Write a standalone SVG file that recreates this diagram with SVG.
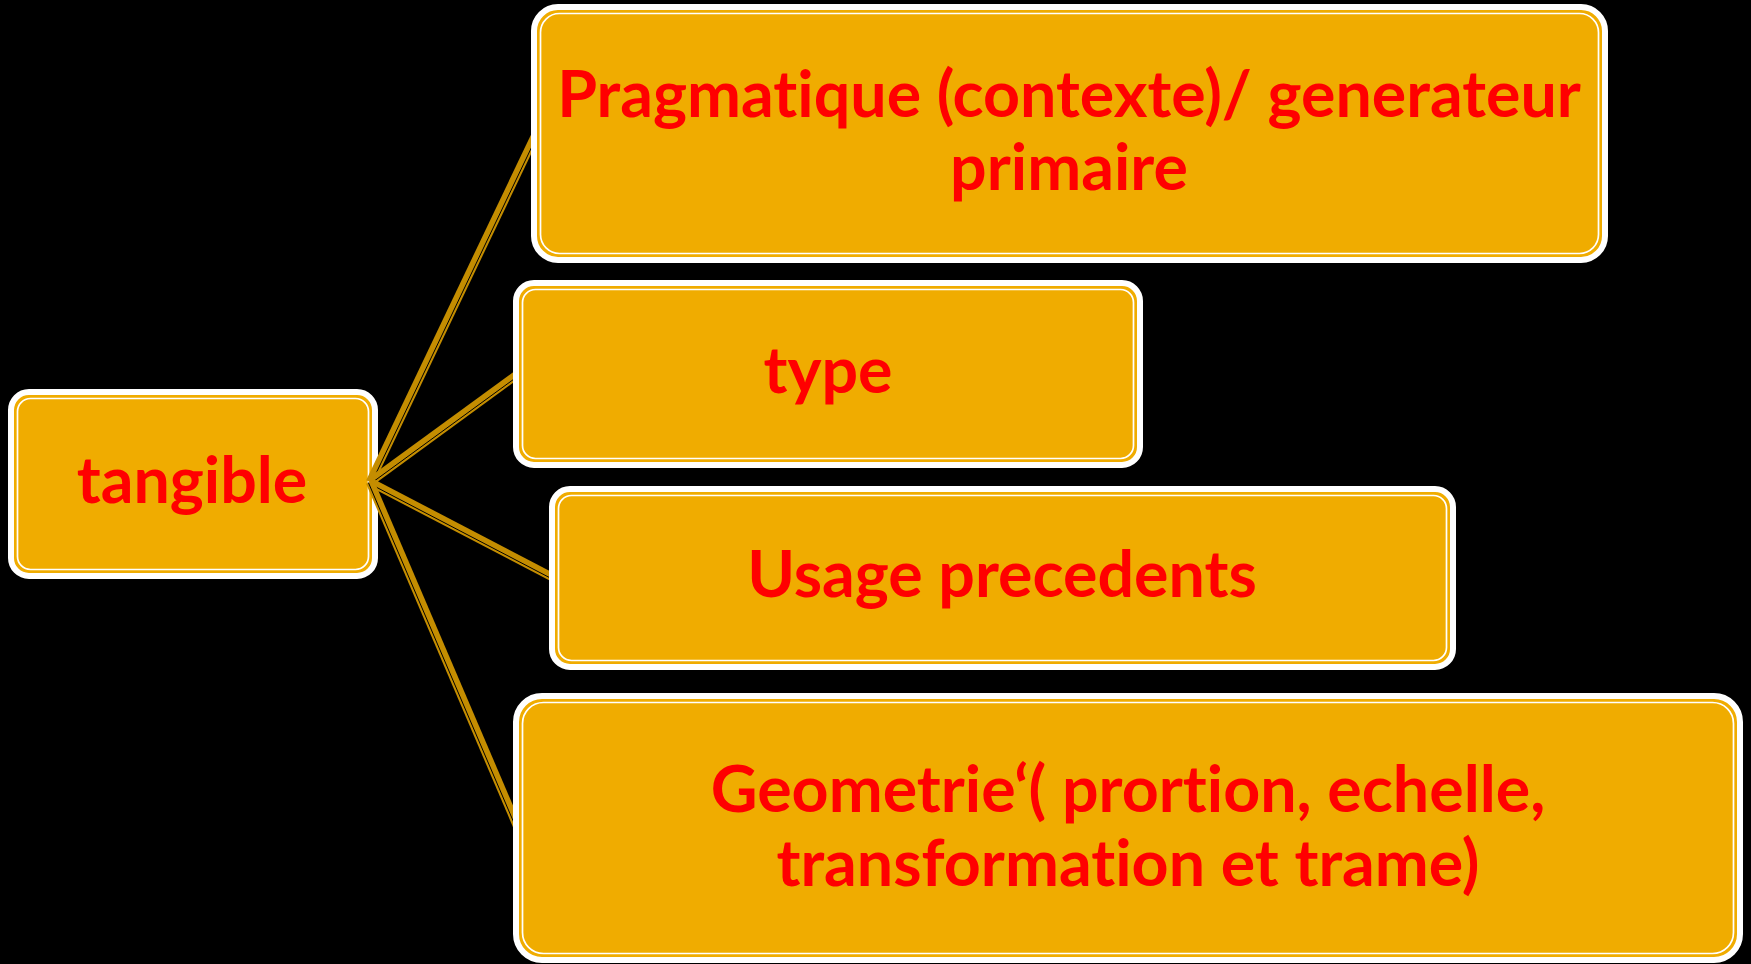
<svg xmlns="http://www.w3.org/2000/svg" width="1751" height="964" viewBox="0 0 1751 964">
<style>
.outer{fill:#F0AC00;stroke:#FFFFFF;stroke-width:6}
.inner{fill:none;stroke:#FFFFFF;stroke-width:1.7}
.lbl{font-family:Lato,"Open Sans","Liberation Sans",sans-serif;font-weight:bold;font-size:64.5px;fill:#FF0000;text-anchor:middle;font-variant-ligatures:none;font-feature-settings:"liga" 0,"clig" 0}
.conn{stroke:#C48D00;stroke-width:8.5;fill:none}
.connin{stroke:#000000;stroke-width:1;fill:none}
</style>
<rect x="0" y="0" width="1751" height="964" fill="#000000"/>
<g id="node-tangible">
<rect class="outer" x="11" y="392" width="364" height="184" rx="18"/>
<rect class="inner" x="17.5" y="398.5" width="351" height="171" rx="13"/>
<text class="lbl" x="192" y="503">tangible</text>
</g>
<g id="connectors">
<line class="conn" x1="370" y1="482" x2="536" y2="134"/>
<line class="connin" x1="371.6" y1="482.7" x2="537.6" y2="134.7"/>
<line class="conn" x1="370" y1="482" x2="518" y2="374"/>
<line class="connin" x1="371" y1="483.4" x2="519" y2="375.4"/>
<line class="conn" x1="370" y1="482" x2="554" y2="578"/>
<line class="connin" x1="369.2" y1="483.5" x2="553.2" y2="579.5"/>
<line class="conn" x1="370" y1="482" x2="518" y2="828"/>
<line class="connin" x1="368.4" y1="482.6" x2="516.4" y2="828.6"/>
</g>
<g id="node-pragmatique">
<rect class="outer" x="534" y="7" width="1071" height="253" rx="24"/>
<rect class="inner" x="540.5" y="13.5" width="1058" height="240" rx="19"/>
<text class="lbl" x="1069" y="117">Pragmatique (contexte)/ generateur</text>
<text class="lbl" x="1069" y="190">primaire</text>
</g>
<g id="node-type">
<rect class="outer" x="516" y="283" width="624" height="182" rx="18"/>
<rect class="inner" x="522.5" y="289.5" width="611" height="169" rx="13"/>
<text class="lbl" x="828" y="393">type</text>
</g>
<g id="node-usage">
<rect class="outer" x="552" y="489" width="901" height="178" rx="18"/>
<rect class="inner" x="558.5" y="495.5" width="888" height="165" rx="13"/>
<text class="lbl" x="1002" y="597">Usage precedents</text>
</g>
<g id="node-geometrie">
<rect class="outer" x="516" y="696" width="1224" height="264" rx="26"/>
<rect class="inner" x="522.5" y="702.5" width="1211" height="251" rx="21"/>
<text class="lbl" x="1128" y="812">Geometrie‘( prortion, echelle,</text>
<text class="lbl" x="1128" y="886">transformation et trame)</text>
</g>
</svg>
